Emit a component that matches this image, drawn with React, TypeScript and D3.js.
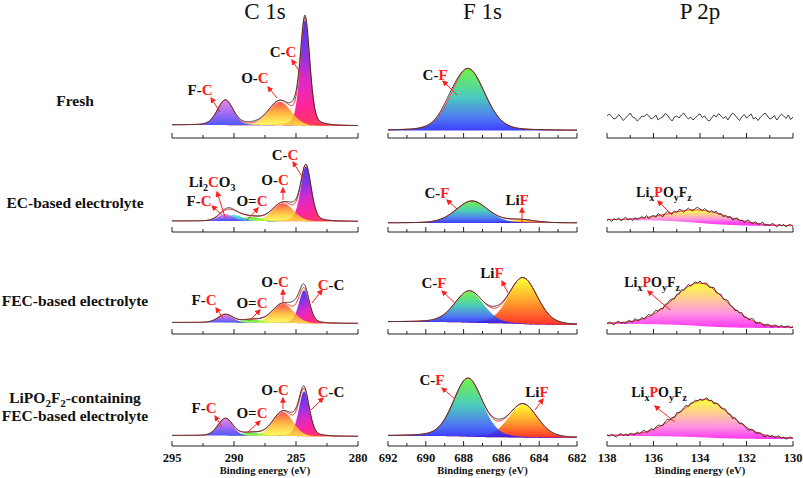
import React from "react";
import * as d3 from "d3";

const WIDTH = 803;
const HEIGHT = 478;
const SERIF = '"Liberation Serif"';

type Seg = { t: string; red?: boolean; sub?: boolean };
type Peak = { name: string; center: number; height: number; fwhm: number; mix: number };
type Ann = { parts: Seg[]; at: [number, number]; from: [number, number]; to: [number, number]; size?: number };

// ---------- axes ----------
const columnTitles = ["C 1s", "F 1s", "P 2p"];
const columnDomains: [number, number][] = [[295, 280], [692, 682], [138, 130]];
const columnMajorTicks = [[295, 290, 285, 280], [692, 690, 688, 686, 684, 682], [138, 136, 134, 132, 130]];
const columnMinorTicks = [[292.5, 287.5, 282.5], [691, 689, 687, 685, 683], [137, 135, 133, 131]];
const axisTitle = "Binding energy (eV)";

// ---------- row labels ----------
const rowLabels: Seg[][][] = [
  [[{ t: "Fresh" }]],
  [[{ t: "EC-based electrolyte" }]],
  [[{ t: "FEC-based electrolyte" }]],
  [
    [{ t: "LiPO" }, { t: "2", sub: true }, { t: "F" }, { t: "2", sub: true }, { t: "-containing" }],
    [{ t: "FEC-based electrolyte" }],
  ],
];

// ---------- C 1s fitted components (eV, intensity a.u.) ----------
const cFreshPeaks: Peak[] = [
  { name: "C-C", center: 284.27, height: 106, fwhm: 0.9, mix: 0.3 },
  { name: "O-C", center: 286.3, height: 23.5, fwhm: 2.15, mix: 0.1 },
  { name: "F-C", center: 290.7, height: 25, fwhm: 1.5, mix: 0.2 },
];
const cECPeaks: Peak[] = [
  { name: "C-C", center: 284.2, height: 55, fwhm: 1.0, mix: 0.3 },
  { name: "O-C", center: 286.05, height: 18, fwhm: 2.0, mix: 0.1 },
  { name: "O=C", center: 288.6, height: 4, fwhm: 2.0, mix: 0.1 },
  { name: "Li2CO3", center: 290.0, height: 6, fwhm: 1.6, mix: 0.1 },
  { name: "F-C", center: 290.7, height: 7, fwhm: 1.4, mix: 0.1 },
];
const cFECPeaks: Peak[] = [
  { name: "C-C", center: 284.35, height: 33, fwhm: 1.0, mix: 0.3 },
  { name: "O-C", center: 286.05, height: 19, fwhm: 2.0, mix: 0.1 },
  { name: "O=C", center: 288.6, height: 3, fwhm: 2.0, mix: 0.1 },
  { name: "F-C", center: 290.7, height: 8, fwhm: 1.4, mix: 0.1 },
];
const cLiPOPeaks: Peak[] = [
  { name: "C-C", center: 284.35, height: 45, fwhm: 1.0, mix: 0.3 },
  { name: "O-C", center: 286.05, height: 24, fwhm: 1.9, mix: 0.1 },
  { name: "O=C", center: 288.6, height: 3, fwhm: 2.0, mix: 0.1 },
  { name: "F-C", center: 290.7, height: 17, fwhm: 1.4, mix: 0.1 },
];
// measured minus fit (small deviations of the raw curve)
const cFreshResidual: Peak[] = [
  { name: "r", center: 285.1, height: 5, fwhm: 0.8, mix: 0 },
  { name: "r", center: 284.27, height: 2, fwhm: 0.6, mix: 0 },
  { name: "r", center: 288.6, height: 1.5, fwhm: 2, mix: 0 },
];
const cECResidual: Peak[] = [
  { name: "r", center: 285.2, height: 3, fwhm: 0.9, mix: 0 },
  { name: "r", center: 290.5, height: 1.5, fwhm: 1, mix: 0 },
];
const cFECResidual: Peak[] = [
  { name: "r", center: 284.35, height: 3, fwhm: 0.8, mix: 0 },
  { name: "r", center: 285.15, height: 5, fwhm: 0.9, mix: 0 },
];
const cLiPOResidual: Peak[] = [
  { name: "r", center: 284.35, height: 2, fwhm: 0.8, mix: 0 },
  { name: "r", center: 285.15, height: 3, fwhm: 0.9, mix: 0 },
];
// background [high-BE side, low-BE side]
const cBackgrounds: [number, number][] = [[13, 12], [11, 10.5], [11.5, 10.5], [10.5, 9.5]];

// ---------- F 1s ----------
const fFreshPeaks: Peak[] = [{ name: "C-F", center: 687.77, height: 62, fwhm: 2.1, mix: 0.2 }];
const fECPeaks: Peak[] = [
  { name: "LiF", center: 685.0, height: 3, fwhm: 1.8, mix: 0.2 },
  { name: "C-F", center: 687.56, height: 22, fwhm: 2.0, mix: 0.2 },
];
const fFECPeaks: Peak[] = [
  { name: "LiF", center: 684.86, height: 46, fwhm: 1.8, mix: 0.2 },
  { name: "C-F", center: 687.7, height: 31, fwhm: 1.8, mix: 0.2 },
];
const fLiPOPeaks: Peak[] = [
  { name: "LiF", center: 684.86, height: 33, fwhm: 1.8, mix: 0.2 },
  { name: "C-F", center: 687.77, height: 58, fwhm: 1.8, mix: 0.2 },
];
const fFreshResidual: Peak[] = [{ name: "r", center: 688.8, height: 3, fwhm: 1.0, mix: 0 }];
const fECResidual: Peak[] = [];
const fFECResidual: Peak[] = [{ name: "r", center: 686.3, height: 2, fwhm: 0.8, mix: 0 }];
const fLiPOResidual: Peak[] = [{ name: "r", center: 686.2, height: 2, fwhm: 0.8, mix: 0 }];
const fBackgrounds: [number, number][] = [[7.5, 7.5], [9, 9], [12, 9], [10, 8]];

// ---------- P 2p ----------
const pFreshPeaks: Peak[] = [];
const pECPeaks: Peak[] = [{ name: "LixPOyFz", center: 134.0, height: 13, fwhm: 3.0, mix: 0.2 }];
const pFECPeaks: Peak[] = [{ name: "LixPOyFz", center: 134.0, height: 43, fwhm: 2.7, mix: 0.2 }];
const pLiPOPeaks: Peak[] = [{ name: "LixPOyFz", center: 133.8, height: 38, fwhm: 2.7, mix: 0.2 }];
const pBackgrounds: [number, number][] = [[21, 21], [12, 6], [10, 6], [10, 7]];
// raw-signal deviations, 0.1 eV apart from 138 eV down to 130 eV
const pFreshNoise = [
  1, 3, 0.5, -2, -1, 2.5, 0, -3.5, -1, 1.5, 4, 0, -1, -4, -2, 1, 0.5, 3, 1, -2,
  -0.5, 2, -3, -1, 0, 3.5, 2, -1.5, -4, 0, 1, -1, 2, 4, 0.5, -2, 0, -3, -1, 1.5,
  3, -0.5, 1, -2.5, -4, -1, 2, 0, 3.5, 1, -1.5, 0.5, -3, 1, 4, 2, -1, -3.5, 0, 2.5,
  -1, 1, 3, -2, -0.5, -3.5, 0, 2, 4, 1, -2, -1, 1.5, -3, 0, 3, 1, -1.5, 2, -2.5, 0,
];
const pECNoise = [
  -1, 0.5, -2, 1, -0.5, 1.5, -1.5, 0, 2, -1, 0.5, -2, 1, -1, 0, 1.5, -0.5, 2, -1.5, 0.5,
  1, -1, 2, 0, -2, 1, 2.5, 0, -1, 1.5, -0.5, 2, 1, -1.5, 0.5, 2, 0, -1, 1.5, 2.5,
  1, -0.5, 2, 0.5, -1, 1.5, 0, 2, -0.5, 1, -1.5, 0.5, -1, 1, -2, 0, 1.5, -1, 0.5, -1.5,
  1, 2, -0.5, 0, 1.5, -1, 0.5, 2, -1.5, 0, -1, 1.5, 0.5, -2, 1, -0.5, 1, -1.5, 0.5, 1, -1,
];
const pFECNoise = [
  -1, 1, -0.5, -2, 0.5, 1.5, -1, 0, -1.5, 1, 0.5, -1, 2, 0, -0.5, 1.5, -1, 1, 2, -0.5,
  1, 2.5, 0, 1, -1, 1.5, 0.5, 2, 1, -1, 1.5, 0, 2, -0.5, 1, 2, -1, 0.5, 1.5, 0,
  2, -0.5, 1, 1.5, -1, 0.5, 2, -1, 0, 1.5, -1, 1, 2, -0.5, 0.5, -1.5, 1, 0, 2, -1,
  0.5, -1, 1.5, 2, -1.5, 0, 1, -0.5, -2, 1, 0, -1.5, 1, 0.5, -1, 1.5, -0.5, 0, 1, -1, 0.5,
];
const pLiPONoise = [
  0.5, -1, 1, -0.5, -2, 0, 1.5, -1, 0.5, -1.5, 1, 0, -1, 1.5, -0.5, 1, 2, -1, 0, 1.5,
  -0.5, 1, 2, 0.5, -1, 1.5, 2.5, 0, 1, -1, 2, 0.5, -0.5, 1.5, 2, -1, 1, 0, 1.5, -0.5,
  1, -1, 0.5, 2, -0.5, 1, -1.5, 0.5, 1, -1, 0, 1.5, -1, 0.5, -2, 1, 0, -1.5, 1, 0.5,
  -1, -2, 0.5, 1, -1.5, 0, 1, -1, -2, 0.5, -1, 1, -0.5, 0, 1.5, -1, 0.5, -1.5, 0, 1, -0.5,
];

// ---------- annotation texts ----------
const FC: Seg[] = [{ t: "F-" }, { t: "C", red: true }];
const OC: Seg[] = [{ t: "O-" }, { t: "C", red: true }];
const CC1: Seg[] = [{ t: "C-" }, { t: "C", red: true }];
const CC2: Seg[] = [{ t: "C", red: true }, { t: "-C" }];
const ODC: Seg[] = [{ t: "O=" }, { t: "C", red: true }];
const LI2CO3: Seg[] = [{ t: "Li" }, { t: "2", sub: true }, { t: "C", red: true }, { t: "O" }, { t: "3", sub: true }];
const CF: Seg[] = [{ t: "C-" }, { t: "F", red: true }];
const LIF: Seg[] = [{ t: "Li" }, { t: "F", red: true }];
const LIPOF: Seg[] = [
  { t: "Li" }, { t: "x", sub: true }, { t: "P", red: true }, { t: "O" }, { t: "y", sub: true }, { t: "F" }, { t: "z", sub: true },
];

// label anchor (eV, intensity) and arrow from peak (eV, intensity) to label
const cFreshLabels: Ann[] = [
  { parts: FC, at: [292.74, 43], from: [291.13, 26], to: [291.85, 40] },
  { parts: OC, at: [288.31, 55], from: [286.53, 40], to: [287.26, 51] },
  { parts: CC1, at: [286.05, 81], from: [284.44, 61], to: [285.32, 78] },
];
const cECLabels: Ann[] = [
  { parts: CC1, at: [285.89, 72], from: [284.44, 54], to: [285.24, 70] },
  { parts: OC, at: [286.69, 47], from: [286.05, 32], to: [286.05, 44] },
  { parts: ODC, at: [288.55, 26], from: [288.95, 12], to: [288.06, 24] },
  { parts: LI2CO3, at: [291.77, 45], from: [290.73, 15], to: [291.37, 40] },
  { parts: FC, at: [292.82, 26], from: [290.97, 17], to: [291.77, 26] },
];
const cFECLabels: Ann[] = [
  { parts: FC, at: [292.42, 29], from: [290.89, 16], to: [291.45, 26] },
  { parts: ODC, at: [288.55, 26], from: [288.79, 13], to: [287.9, 24] },
  { parts: OC, at: [286.69, 47], from: [286.05, 31], to: [286.05, 44] },
  { parts: CC2, at: [282.18, 44], from: [283.71, 31], to: [282.9, 44] },
];
const cLiPOLabels: Ann[] = [
  { parts: FC, at: [292.42, 33], from: [290.97, 19], to: [291.53, 30] },
  { parts: ODC, at: [288.55, 28], from: [288.87, 14], to: [287.9, 25] },
  { parts: OC, at: [286.69, 51], from: [286.05, 37], to: [286.05, 48] },
  { parts: CC2, at: [282.18, 49], from: [283.79, 36], to: [282.82, 48] },
];
const fFreshLabels: Ann[] = [{ parts: CF, at: [689.51, 58], from: [688.35, 43], to: [689.09, 57] }];
const fECLabels: Ann[] = [
  { parts: CF, at: [689.41, 34], from: [688.35, 23], to: [688.88, 32] },
  { parts: LIF, at: [685.17, 27], from: [684.91, 10], to: [684.91, 24] },
];
const fFECLabels: Ann[] = [
  { parts: CF, at: [689.57, 46], from: [688.46, 31], to: [689.14, 43] },
  { parts: LIF, at: [686.5, 56], from: [685.65, 41], to: [685.97, 53] },
];
const fLiPOLabels: Ann[] = [
  { parts: CF, at: [689.67, 61], from: [688.46, 47], to: [689.14, 58] },
  { parts: LIF, at: [684.12, 49], from: [684.22, 36], to: [683.8, 47] },
];
const pFreshLabels: Ann[] = [];
const pECLabels: Ann[] = [{ parts: LIPOF, at: [135.55, 35], from: [135.2, 17], to: [135.81, 31], size: 14 }];
const pFECLabels: Ann[] = [{ parts: LIPOF, at: [136.06, 47], from: [135.29, 24], to: [136.24, 43], size: 14 }];
const pLiPOLabels: Ann[] = [{ parts: LIPOF, at: [135.76, 49], from: [135.08, 24], to: [135.94, 40], size: 14 }];

// ---------- styles ----------
const colRanges: [number, number][] = [[172, 358], [388, 577], [607, 793]];
const rowAxisY = [138, 232, 334, 446];

const styleOf: Record<string, { stops: [number, string][]; opacity: number; diag?: boolean }> = {
  "C-C": { stops: [[0, "#3c2cf2"], [0.3, "#7a2ae6"], [0.55, "#d61fc8"], [0.8, "#ff1996"], [1, "#ff2f55"]], opacity: 0.95, diag: true },
  "O-C": { stops: [[0, "#ff2424"], [0.45, "#ff9f10"], [1, "#ffff38"]], opacity: 0.78 },
  "O=C": { stops: [[0, "#26e626"], [1, "#b4ff3c"]], opacity: 0.85 },
  Li2CO3: { stops: [[0, "#22e0c8"], [1, "#3c8cff"]], opacity: 0.85 },
  "F-C": { stops: [[0, "#e07ae0"], [0.5, "#9a5cf0"], [1, "#3c46ff"]], opacity: 0.9 },
  "C-F": { stops: [[0, "#5af02a"], [0.45, "#2ec4b0"], [0.8, "#3262f0"], [1, "#1e1eff"]], opacity: 0.86 },
  LiF: { stops: [[0, "#ffff24"], [0.5, "#ffa022"], [1, "#ff2a1e"]], opacity: 0.95 },
  LixPOyFz: { stops: [[0, "#ffff30"], [0.35, "#ffcc88"], [0.7, "#ff90e0"], [1, "#ff38f0"]], opacity: 0.95 },
};

function gl(e: number, p: Peak) {
  const d = e - p.center;
  const r = (d * d) / (p.fwhm * p.fwhm);
  const g = Math.exp(-4 * Math.LN2 * r);
  const l = 1 / (1 + 4 * r);
  return p.height * ((1 - p.mix) * g + p.mix * l);
}

const textStyle = (size: number, bold: boolean) => ({
  fontFamily: SERIF,
  fontSize: `${size}px`,
  fontWeight: bold ? 700 : 400,
});

function renderSegs(parts: Seg[], size: number, colored = true) {
  let shift = 0;
  const sub = Math.round(size * 0.68);
  return parts.map((p, k) => {
    const target = p.sub ? size * 0.28 : 0;
    const dy = target - shift;
    shift = target;
    return (
      <tspan
        key={k}
        dy={dy}
        style={{ fontFamily: SERIF, fontSize: `${p.sub ? sub : size}px`, fontWeight: 700 }}
        fill={colored && p.red ? "#ff1a1a" : "#111"}
      >
        {p.t}
      </tspan>
    );
  });
}

type PanelDef = {
  id: string;
  col: number;
  row: number;
  peaks: Peak[];
  resid: Peak[];
  bg: [number, number];
  noise?: number[];
  anns: Ann[];
};

const panels: PanelDef[] = [
  { id: "c0", col: 0, row: 0, peaks: cFreshPeaks, resid: cFreshResidual, bg: cBackgrounds[0], anns: cFreshLabels },
  { id: "c1", col: 0, row: 1, peaks: cECPeaks, resid: cECResidual, bg: cBackgrounds[1], anns: cECLabels },
  { id: "c2", col: 0, row: 2, peaks: cFECPeaks, resid: cFECResidual, bg: cBackgrounds[2], anns: cFECLabels },
  { id: "c3", col: 0, row: 3, peaks: cLiPOPeaks, resid: cLiPOResidual, bg: cBackgrounds[3], anns: cLiPOLabels },
  { id: "f0", col: 1, row: 0, peaks: fFreshPeaks, resid: fFreshResidual, bg: fBackgrounds[0], anns: fFreshLabels },
  { id: "f1", col: 1, row: 1, peaks: fECPeaks, resid: fECResidual, bg: fBackgrounds[1], anns: fECLabels },
  { id: "f2", col: 1, row: 2, peaks: fFECPeaks, resid: fFECResidual, bg: fBackgrounds[2], anns: fFECLabels },
  { id: "f3", col: 1, row: 3, peaks: fLiPOPeaks, resid: fLiPOResidual, bg: fBackgrounds[3], anns: fLiPOLabels },
  { id: "p0", col: 2, row: 0, peaks: pFreshPeaks, resid: [], bg: pBackgrounds[0], noise: pFreshNoise, anns: pFreshLabels },
  { id: "p1", col: 2, row: 1, peaks: pECPeaks, resid: [], bg: pBackgrounds[1], noise: pECNoise, anns: pECLabels },
  { id: "p2", col: 2, row: 2, peaks: pFECPeaks, resid: [], bg: pBackgrounds[2], noise: pFECNoise, anns: pFECLabels },
  { id: "p3", col: 2, row: 3, peaks: pLiPOPeaks, resid: [], bg: pBackgrounds[3], noise: pLiPONoise, anns: pLiPOLabels },
];

function Panel({ def }: { def: PanelDef }) {
  const [d0, d1] = columnDomains[def.col];
  const x = d3.scaleLinear().domain([d0, d1]).range(colRanges[def.col]);
  const ay = rowAxisY[def.row];
  const y = d3.scaleLinear().domain([0, 100]).range([ay, ay - 100]);
  const lo = Math.min(d0, d1);
  const hi = Math.max(d0, d1);
  const step = 0.05;
  const n = Math.round((hi - lo) / step);
  const E = d3.range(n + 1).map((i) => lo + i * step);
  const comps = def.peaks.map((p) => E.map((e) => gl(e, p)));
  const sum = E.map((_, i) => d3.sum(comps, (c) => c[i]));
  const cum: number[] = [0];
  for (let i = 1; i <= n; i++) cum.push(cum[i - 1] + ((sum[i] + sum[i - 1]) / 2) * step);
  const total = cum[n];
  const [bgL, bgR] = def.bg;
  const bgv = E.map((_, i) => (total > 0 ? bgR + ((bgL - bgR) * cum[i]) / total : bgR + ((bgL - bgR) * i) / n));
  const idx = (e: number) => Math.max(0, Math.min(n, Math.round((e - lo) / step)));

  const area = d3
    .area<number>()
    .x((i) => x(E[i]))
    .y0((i) => y(bgv[i]));
  const lineGen = d3.line<[number, number]>().x((d) => x(d[0])).y((d) => y(d[1]));

  const fitPts: [number, number][] = E.map((e, i) => [e, bgv[i] + sum[i]]);
  let rawPts: [number, number][];
  if (def.noise) {
    rawPts = def.noise.map((v, j) => {
      const e = hi - j * 0.1;
      const i = idx(e);
      return [e, bgv[i] + sum[i] + v];
    });
  } else {
    rawPts = E.map((e, i) => [e, bgv[i] + sum[i] + d3.sum(def.resid, (r) => gl(e, r))]);
  }
  const indices = d3.range(n + 1);

  const axisX0 = colRanges[def.col][0];
  const axisX1 = colRanges[def.col][1];

  return (
    <g>
      <defs>
        {def.peaks.map((p, k) => {
          const st = styleOf[p.name];
          const ci = idx(p.center);
          const top = y(bgv[ci] + p.height);
          const bot = y(bgv[ci]);
          const coords = st.diag
            ? { x1: x(p.center + 0.5), y1: top, x2: x(p.center - 1.0), y2: bot }
            : { x1: x(p.center), y1: top, x2: x(p.center), y2: bot };
          return (
            <linearGradient key={k} id={`g-${def.id}-${k}`} gradientUnits="userSpaceOnUse" {...coords}>
              {st.stops.map(([o, c], s) => (
                <stop key={s} offset={o} stopColor={c} />
              ))}
            </linearGradient>
          );
        })}
      </defs>
      {def.peaks.map((p, k) => {
        const st = styleOf[p.name];
        const c = comps[k];
        const a = area.y1((i) => y(bgv[i] + c[i]));
        return <path key={k} d={a(indices) || ""} fill={`url(#g-${def.id}-${k})`} fillOpacity={st.opacity} stroke="none" />;
      })}
      {def.peaks.length > 0 && <path d={lineGen(fitPts) || ""} fill="none" stroke="#ff2a2a" strokeWidth={1} />}
      <path d={lineGen(rawPts) || ""} fill="none" stroke="#2a2a2a" strokeWidth={0.9} />
      {/* axis */}
      <line x1={axisX0} x2={axisX1} y1={ay} y2={ay} stroke="#222" strokeWidth={1} />
      {columnMajorTicks[def.col].map((t) => (
        <line key={`M${t}`} x1={x(t)} x2={x(t)} y1={ay} y2={ay - 5} stroke="#222" strokeWidth={1} />
      ))}
      {columnMinorTicks[def.col].map((t) => (
        <line key={`m${t}`} x1={x(t)} x2={x(t)} y1={ay} y2={ay - 3} stroke="#222" strokeWidth={1} />
      ))}
      {def.row === 3 &&
        columnMajorTicks[def.col].map((t) => (
          <text key={`L${t}`} x={x(t)} y={ay + 16} textAnchor="middle" style={textStyle(12.5, true)} fill="#111">
            {t}
          </text>
        ))}
      {def.row === 3 && (
        <text x={(axisX0 + axisX1) / 2} y={ay + 28} textAnchor="middle" style={textStyle(10.5, true)} fill="#111">
          {axisTitle}
        </text>
      )}
      {/* annotations */}
      {def.anns.map((a, k) => (
        <g key={k}>
          <line
            x1={x(a.from[0])}
            y1={y(a.from[1])}
            x2={x(a.to[0])}
            y2={y(a.to[1])}
            stroke="#ff2020"
            strokeWidth={1}
            markerEnd="url(#arrowhead)"
          />
          <text x={x(a.at[0])} y={y(a.at[1])} textAnchor="middle" style={textStyle(a.size ?? 15, true)}>
            {renderSegs(a.parts, a.size ?? 15)}
          </text>
        </g>
      ))}
    </g>
  );
}

export default function App() {
  const titleX = colRanges.map(([a, b]) => (a + b) / 2);
  const rowLabelY = [106, 208, 306];
  return (
    <div style={{ position: "absolute", left: 0, top: 0 }}>
      <svg width={WIDTH} height={HEIGHT} viewBox={`0 0 ${WIDTH} ${HEIGHT}`} style={{ display: "block", background: "#fff" }}>
        <defs>
          <marker id="arrowhead" viewBox="0 0 10 10" refX="8" refY="5" markerWidth="6" markerHeight="6" orient="auto">
            <path d="M0,0 L10,5 L0,10 z" fill="#ff2020" />
          </marker>
        </defs>
        {columnTitles.map((t, i) => (
          <text key={t} x={titleX[i]} y={19} textAnchor="middle" style={textStyle(23, false)} fill="#111">
            {t}
          </text>
        ))}
        {rowLabels.map((lines, r) =>
          lines.map((segs, li) => (
            <text
              key={`${r}-${li}`}
              x={75}
              y={r < 3 ? rowLabelY[r] : 403 + li * 18}
              textAnchor="middle"
              style={textStyle(15.5, true)}
              fill="#111"
            >
              {renderSegs(segs, 15.5, false)}
            </text>
          ))
        )}
        {panels.map((p) => (
          <Panel key={p.id} def={p} />
        ))}
      </svg>
    </div>
  );
}
